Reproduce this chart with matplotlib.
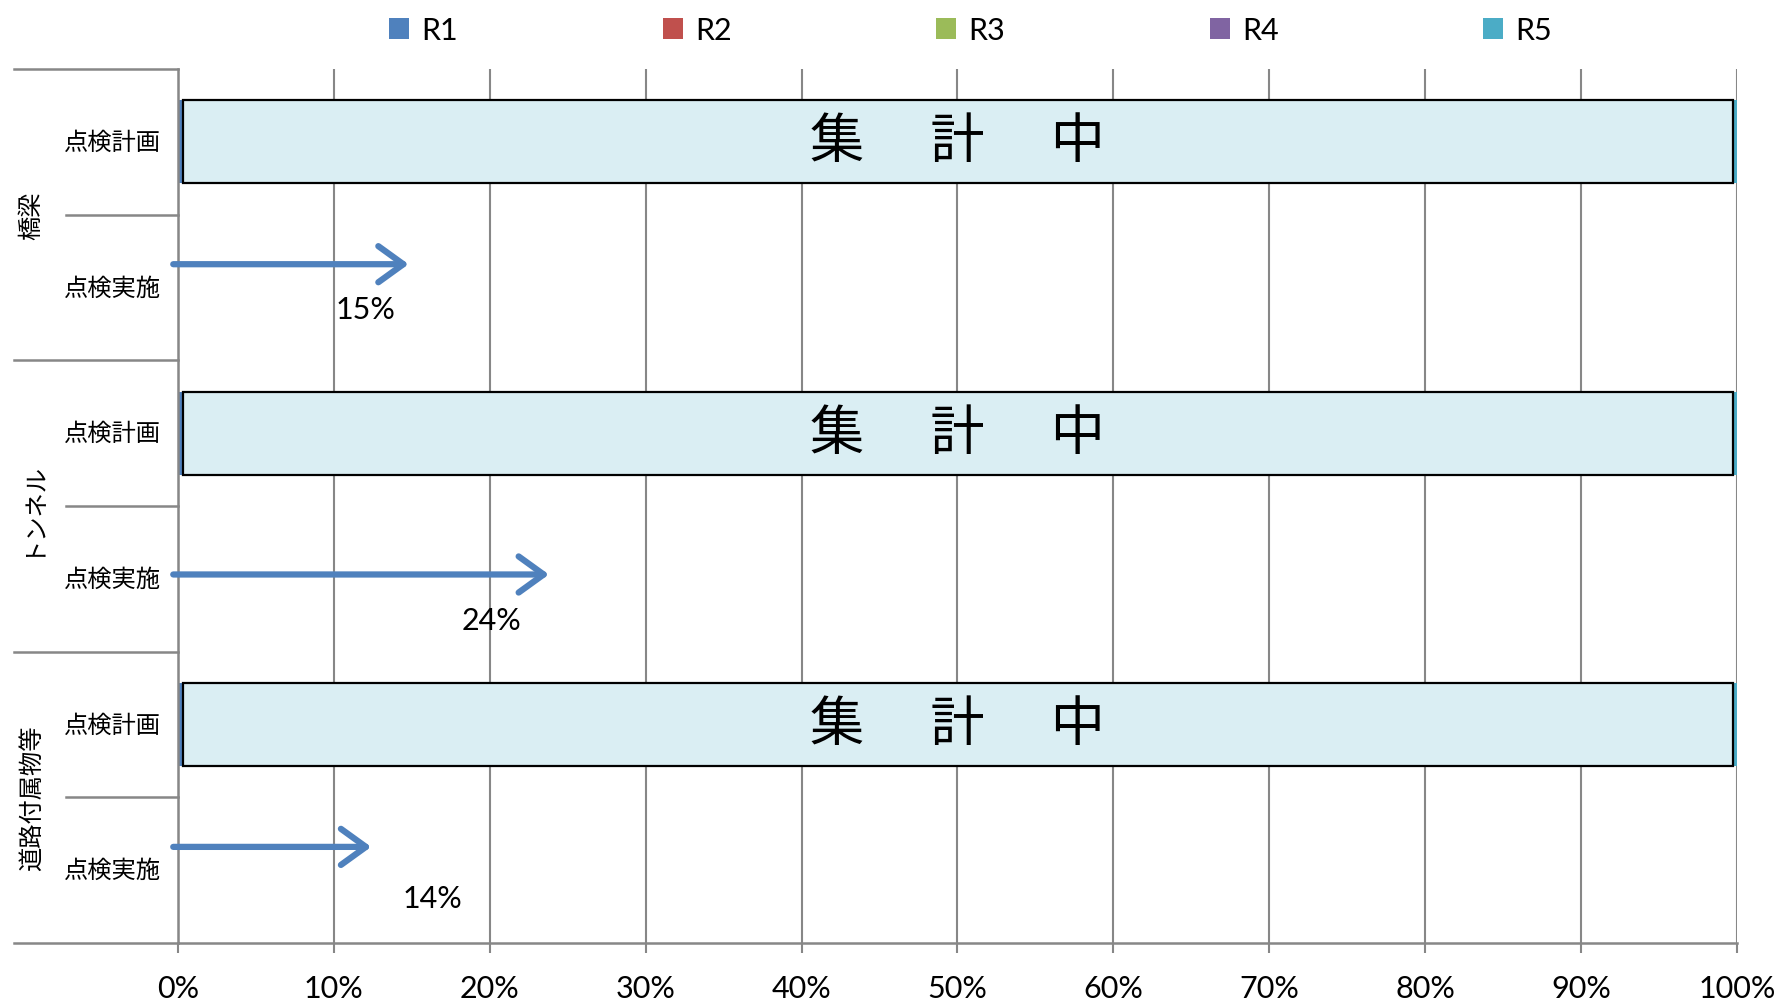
import numpy as np
import matplotlib
matplotlib.use("Agg")
import matplotlib.pyplot as plt
from matplotlib.patches import Rectangle, Patch
import matplotlib.transforms as mtransforms

plt.rcParams['font.family'] = ['Lato', 'Noto Sans CJK JP', 'DejaVu Sans']

# data
groups = ['橋梁', 'トンネル', '道路付属物等']
rows = ['点検計画', '点検実施']
series = ['R1', 'R2', 'R3', 'R4', 'R5']
colors = ['#4F81BD', '#C0504D', '#9BBB59', '#8064A2', '#4BACC6']
# planned share by year (hidden under the "集計中" box)
plan_bridge = [0.10, 0.20, 0.25, 0.25, 0.20]
plan_tunnel = [0.126, 0.222, 0.226, 0.22, 0.206]
plan_road = [0.12, 0.20, 0.24, 0.24, 0.20]
plan = [plan_bridge, plan_tunnel, plan_road]
done_pct = [15, 24, 14]              # progress labels
arrow_tip = [0.148, 0.238, 0.124]    # where arrows end
arrow_dy = [-0.16, -0.03, -0.16]
label_pos = [(0.120, 0.145), (0.201, 0.28), (0.163, 0.19)]
overlay_text = '集　 計　 中'
xticks = np.arange(0, 1.01, 0.1)

fig = plt.figure(figsize=(17.81, 10.03), dpi=100)
ax = fig.add_axes([0.0999, 0.0588, 0.8754, 0.8714])

grid_c = '#878787'
bar_h = 0.57
for g in range(3):
    y = 2 * g + 0.5
    left = 0.0
    for v, c in zip(plan[g], colors):
        ax.barh(y, v, left=left, height=bar_h, color=c, zorder=2)
        left += v
    ax.add_patch(Rectangle((0.003, y - bar_h / 2), 0.9945, bar_h,
                           facecolor='#DAEEF3', edgecolor='black', lw=1.6, zorder=3))
    ax.text(0.5, y, overlay_text, ha='center', va='center', fontsize=39,
            family=['Noto Sans CJK JP'], zorder=4)

    ya = 2 * g + 1.5 + arrow_dy[g]
    ax.annotate('', xy=(arrow_tip[g], ya), xytext=(-0.003, ya),
                arrowprops=dict(arrowstyle='->,head_length=0.9,head_width=0.65',
                                lw=4.5, color='#4F81BD', mutation_scale=20,
                                shrinkA=0, shrinkB=0, capstyle='round',
                                joinstyle='round'),
                annotation_clip=False, zorder=5)
    lx, ly = label_pos[g]
    ax.text(lx, 2 * g + 1.5 + ly, f'{done_pct[g]}%', ha='center', va='center',
            fontsize=22, zorder=5)

ax.set_xlim(0, 1)
ax.set_ylim(6, 0)
ax.set_xticks(xticks)
ax.set_xticklabels([f'{int(round(t * 100))}%' for t in xticks], fontsize=22)
ax.set_yticks([])
ax.tick_params(axis='x', length=7, width=1.5, color=grid_c, pad=15)
ax.grid(axis='x', color=grid_c, lw=1.5, zorder=1)
ax.set_axisbelow(True)
for s in ['top', 'right']:
    ax.spines[s].set_visible(False)
for s in ['left', 'bottom']:
    ax.spines[s].set_color(grid_c)
    ax.spines[s].set_linewidth(1.8)

# category separators and labels on the left
trans = mtransforms.blended_transform_factory(ax.transAxes, ax.transData)
for k in range(7):
    x0 = -0.105 if k % 2 == 0 else -0.072
    ax.plot([x0, 0], [k, k], color=grid_c, lw=1.8, transform=trans, clip_on=False)
for g, name in enumerate(groups):
    ax.text(-0.094, 2 * g + 1, name, rotation=90, ha='center', va='center',
            fontsize=17.5, transform=trans, family=['Noto Sans CJK JP'])
    for r, rn in enumerate(rows):
        ax.text(-0.042, 2 * g + r + 0.5, rn, ha='center', va='center',
                fontsize=17.5, transform=trans, family=['Noto Sans CJK JP'])

handles = [Patch(facecolor=c) for c in colors]
fig.legend(handles, series, loc='center', bbox_to_anchor=(0.545, 0.969), ncol=5,
           frameon=False, fontsize=22, handlelength=0.65, handleheight=0.65,
           handletextpad=0.4, columnspacing=6.7)

fig.savefig('out.png', dpi=100)
